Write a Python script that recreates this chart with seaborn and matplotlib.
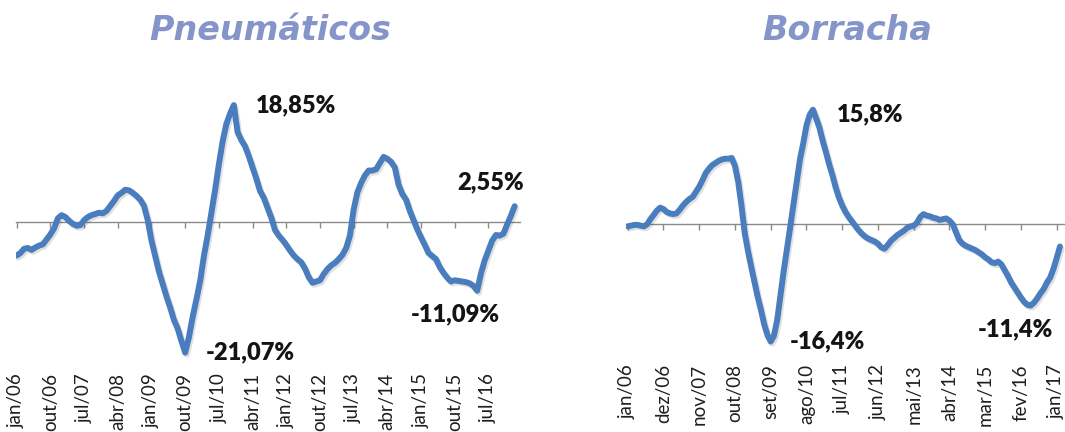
"""
Variação acumulada 12 meses - Pneumáticos x Borracha
Dois painéis de linha mensal (jan/06 a fev/17).
"""

import matplotlib.pyplot as plt
import matplotlib.patheffects as pe
import seaborn as sns
import pandas as pd
import numpy as np

# ============================================
# DATA
# ============================================

MES_ABREV = ['jan', 'fev', 'mar', 'abr', 'mai', 'jun',
             'jul', 'ago', 'set', 'out', 'nov', 'dez']
ANOS = ['06', '07', '08', '09', '10', '11', '12', '13', '14', '15', '16', '17']

# Pneumáticos (% - 134 meses)
PNEUS = [
    -5.4, -5.0, -4.3, -4.2, -4.5, -4.1, -3.8, -3.6, -2.8, -2.0,
    -1.0, 0.6, 1.1, 0.8, 0.2, -0.3, -0.6, -0.5, 0.3, 0.8,
    1.1, 1.3, 1.5, 1.4, 1.8, 2.6, 3.4, 4.3, 4.7, 5.2,
    5.1, 4.7, 4.2, 3.6, 2.6, 0.3, -3.0, -5.5, -8.0, -10.0,
    -12.0, -13.8, -15.8, -17.2, -19.2, -21.07, -18.6, -15.3, -12.5, -9.5,
    -5.5, -2.2, 1.5, 5.2, 9.3, 13.0, 15.8, 17.5, 18.85, 14.5,
    13.2, 12.2, 10.6, 8.8, 7.0, 5.0, 3.9, 2.3, 0.7, -1.3,
    -2.2, -2.9, -3.7, -4.6, -5.4, -6.0, -6.5, -7.5, -8.9, -9.8,
    -9.6, -9.4, -8.4, -7.6, -7.0, -6.6, -6.0, -5.3, -4.2, -2.2,
    2.0, 4.8, 6.3, 7.5, 8.3, 8.3, 8.5, 9.5, 10.5, 10.2,
    9.7, 8.8, 6.0, 4.5, 3.6, 1.8, 0.3, -1.2, -2.5, -3.7,
    -5.0, -5.5, -6.0, -7.3, -8.2, -9.0, -9.6, -9.4, -9.5, -9.6,
    -9.7, -9.9, -10.3, -11.09, -8.3, -6.2, -4.6, -3.0, -2.1, -2.2,
    -1.9, -0.4, 1.0, 2.55,
]

# Borracha (% - 134 meses)
BORRACHA = [
    -0.4, -0.3, -0.2, -0.2, -0.3, -0.4, -0.1, 0.6, 1.2, 1.8,
    2.2, 2.0, 1.6, 1.4, 1.3, 1.4, 1.9, 2.5, 3.0, 3.4,
    3.7, 4.4, 5.1, 6.0, 7.0, 7.6, 8.1, 8.4, 8.7, 8.9,
    9.0, 9.0, 9.1, 8.0, 5.8, 2.5, -1.3, -3.8, -6.0, -8.1,
    -10.2, -12.0, -14.0, -15.5, -16.4, -15.6, -13.4, -10.0, -6.6, -3.6,
    -0.5, 2.6, 5.8, 8.9, 11.1, 13.6, 15.1, 15.8, 14.6, 13.3,
    11.5, 9.9, 8.2, 6.7, 5.0, 3.6, 2.5, 1.6, 0.9, 0.3,
    -0.3, -0.9, -1.4, -1.8, -2.1, -2.3, -2.5, -2.8, -3.3, -3.5,
    -3.0, -2.4, -2.0, -1.6, -1.3, -1.0, -0.6, -0.4, -0.3, 0.1,
    0.9, 1.3, 1.1, 1.0, 0.8, 0.7, 0.5, 0.6, 0.7, 0.4,
    -0.1, -1.2, -2.3, -2.8, -3.1, -3.3, -3.5, -3.7, -4.0, -4.3,
    -4.7, -5.0, -5.4, -5.5, -5.3, -5.7, -6.5, -7.3, -8.2, -8.9,
    -9.6, -10.3, -10.9, -11.3, -11.4, -11.0, -10.4, -9.7, -9.1, -8.2,
    -7.5, -6.3, -4.8, -3.2,
]

TICKS_PNEUS = ['jan/06', 'out/06', 'jul/07', 'abr/08', 'jan/09', 'out/09', 'jul/10',
               'abr/11', 'jan/12', 'out/12', 'jul/13', 'abr/14', 'jan/15', 'out/15',
               'jul/16']
TICKS_BORRACHA = ['jan/06', 'dez/06', 'nov/07', 'out/08', 'set/09', 'ago/10', 'jul/11',
                  'jun/12', 'mai/13', 'abr/14', 'mar/15', 'fev/16', 'jan/17']

# rótulos: (valor, texto, deslocamento em pontos, alinhamento)
LABELS_PNEUS = [(18.85, '18,85%', (16, 0), 'left'),
                (-21.07, '-21,07%', (15, 0), 'left'),
                (2.55, '2,55%', (-17, 17), 'center'),
                (-11.09, '-11,09%', (-16, -17), 'center')]
LABELS_BORRACHA = [(15.8, '15,8%', (17, -3), 'left'),
                   (-16.4, '-16,4%', (14, 0), 'left'),
                   (-11.4, '-11,4%', (-11, -17), 'center')]

# ============================================
# CONFIGURATION
# ============================================

W, H = 1065, 432
LINE_COLOR = '#4A7DBE'
TITLE_COLOR = '#8595CA'
AXIS_COLOR = '#8A8A8A'

sns.set_style("white")
plt.rcParams['font.family'] = ['Lato', 'DejaVu Sans']


def monthly_frame(values):
    meses = [f'{m}/{a}' for a in ANOS for m in MES_ABREV][:len(values)]
    return pd.DataFrame({'mes': meses, 'idx': np.arange(len(values)), 'valor': values})


def panel(fig, rect, df, tick_labels, step, xlim, ylim, labels):
    ax = fig.add_axes(rect)
    sns.lineplot(data=df, x='idx', y='valor', ax=ax, color=LINE_COLOR, linewidth=4.3,
                 solid_capstyle='round', solid_joinstyle='round',
                 path_effects=[pe.SimpleLineShadow(offset=(1.2, -1.5), alpha=0.12),
                               pe.Normal()])
    ax.set_xlim(*xlim)
    ax.set_ylim(*ylim)
    ax.set_xlabel('')
    ax.set_ylabel('')
    ax.set_yticks([])

    ticks = np.arange(len(tick_labels)) * step
    # eixo horizontal cruzando no zero, só com marcas
    for s in ['top', 'right', 'left']:
        ax.spines[s].set_visible(False)
    ax.spines['bottom'].set_position(('data', 0))
    ax.spines['bottom'].set_color(AXIS_COLOR)
    ax.spines['bottom'].set_linewidth(1.0)
    ax.spines['bottom'].set_zorder(1)
    ax.set_xticks(ticks)
    ax.tick_params(axis='x', bottom=True, direction='out', length=4, width=1,
                   color=AXIS_COLOR, labelbottom=False)

    # rótulos do eixo na base do gráfico
    sec = ax.secondary_xaxis('bottom')
    sec.spines['bottom'].set_visible(False)
    sec.set_xticks(ticks)
    sec.set_xticklabels(tick_labels, rotation=90, fontsize=13.5, color='#1e1e1e')
    sec.tick_params(axis='x', length=0, pad=3)

    for val, txt, off, ha in labels:
        i = df.index[df['valor'] == val][0]
        ax.annotate(txt, xy=(df['idx'][i], val), xytext=off, textcoords='offset points',
                    ha=ha, va='center', fontsize=17, fontweight='heavy', color='#141414')
    return ax


def main():
    fig = plt.figure(figsize=(W / 100, H / 100), dpi=100)
    fig.patch.set_facecolor('white')

    pneus = monthly_frame(PNEUS)
    borracha = monthly_frame(BORRACHA)

    # painel esquerdo: zero em y=222px, 6.2 px por ponto, 3.744 px por mês
    top, bot = 90, 369
    panel(fig, [16 / W, 1 - bot / H, (520 - 16) / W, (bot - top) / H],
          pneus, TICKS_PNEUS, 9,
          (-0.7 / 3.744, (520 - 16.7) / 3.744),
          (-(bot - 222) / 6.2, (222 - top) / 6.2),
          LABELS_PNEUS)

    # painel direito: zero em y=223.5px, 7.2 px por ponto, 3.25 px por mês
    top, bot = 90, 360
    panel(fig, [626 / W, 1 - bot / H, (W - 626) / W, (bot - top) / H],
          borracha, TICKS_BORRACHA, 11,
          (-1.7 / 3.25, (W - 627.7) / 3.25),
          (-(bot - 223.5) / 7.2, (223.5 - top) / 7.2),
          LABELS_BORRACHA)

    for x, t in [(270, 'Pneumáticos'), (847, 'Borracha')]:
        fig.text(x / W, 1 - 30 / H, t, ha='center', va='center', fontsize=24,
                 fontweight='bold', fontstyle='italic', family='DejaVu Sans',
                 color=TITLE_COLOR)

    fig.savefig('out.png', dpi=100, facecolor='white')
    plt.close(fig)


if __name__ == "__main__":
    main()
